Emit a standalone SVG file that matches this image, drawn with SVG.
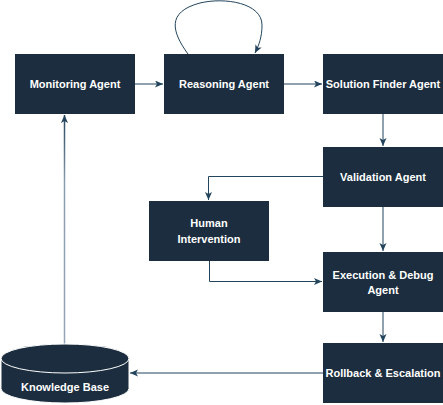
<svg xmlns="http://www.w3.org/2000/svg" width="443" height="405" viewBox="0 0 443 405">
<style>
.box{fill:#1B2D3E;stroke:none}
.lbl{fill:#ffffff;font-family:"Liberation Sans",Arial,sans-serif;font-size:11px;font-weight:bold;text-anchor:middle}
.edge{fill:none;stroke:#23445D;stroke-width:1}
</style>
<defs>
<marker id="arr" markerUnits="userSpaceOnUse" markerWidth="9" markerHeight="8" refX="8" refY="3.5" orient="auto">
<path d="M0,0 L8,3.5 L0,7 L2,3.5 Z" fill="#23445D"/>
</marker>
<linearGradient id="kbline" gradientUnits="userSpaceOnUse" x1="0" y1="114" x2="0" y2="344">
<stop offset="0" stop-color="#23445D"/>
<stop offset="0.3" stop-color="#8A9DAE"/>
<stop offset="1" stop-color="#94A5B5"/>
</linearGradient>
</defs>
<g id="connectors">
<path class="edge" d="M135,84 L163,84" marker-end="url(#arr)"/>
<path class="edge" d="M284,84 L322,84" marker-end="url(#arr)"/>
<path class="edge" d="M188,54 C172,32 166,12 200,3 C225,-3 262,3 262,25 C262,37 259,45 255,53" marker-end="url(#arr)"/>
<path class="edge" d="M383,114 L383,146" marker-end="url(#arr)"/>
<path class="edge" d="M323,176.5 L208.5,176.5 L208.5,200" marker-end="url(#arr)"/>
<path class="edge" d="M383,207 L383,251" marker-end="url(#arr)"/>
<path class="edge" d="M209.5,261 L209.5,281.5 L322,281.5" marker-end="url(#arr)"/>
<path class="edge" d="M383,312 L383,342" marker-end="url(#arr)"/>
<path class="edge" d="M323,373 L130,373" marker-end="url(#arr)"/>
<path d="M64.5,344 L64.5,115" fill="none" stroke="url(#kbline)" stroke-width="1.5" marker-end="url(#arr)"/>
</g>
<g id="monitoring">
<rect class="box" x="15" y="54" width="120" height="60"/>
<text class="lbl" x="75" y="88">Monitoring Agent</text>
</g>
<g id="reasoning">
<rect class="box" x="164" y="54" width="120" height="60"/>
<text class="lbl" x="224" y="88">Reasoning Agent</text>
</g>
<g id="solution">
<rect class="box" x="323" y="54" width="120" height="60"/>
<text class="lbl" x="383" y="88">Solution Finder Agent</text>
</g>
<g id="validation">
<rect class="box" x="323" y="147" width="120" height="60"/>
<text class="lbl" x="383" y="181">Validation Agent</text>
</g>
<g id="human">
<rect class="box" x="149" y="201" width="120" height="60"/>
<text class="lbl" x="209" y="227">Human</text>
<text class="lbl" x="209" y="243">Intervention</text>
</g>
<g id="execution">
<rect class="box" x="323" y="252" width="120" height="60"/>
<text class="lbl" x="383" y="279">Execution &amp; Debug</text>
<text class="lbl" x="383" y="294">Agent</text>
</g>
<g id="rollback">
<rect class="box" x="323" y="343" width="120" height="60"/>
<text class="lbl" x="383" y="377">Rollback &amp; Escalation</text>
</g>
<g id="knowledge">
<path d="M1,358.5 A64,14.5 0 0 1 129,358.5 L129,388.5 A64,14.5 0 0 1 1,388.5 Z" fill="#1B2D3E" stroke="#ffffff" stroke-width="1"/>
<path d="M1,358.5 A64,14.5 0 0 0 129,358.5" fill="none" stroke="#ffffff" stroke-width="1"/>
<text class="lbl" x="65" y="391">Knowledge Base</text>
</g>
</svg>
